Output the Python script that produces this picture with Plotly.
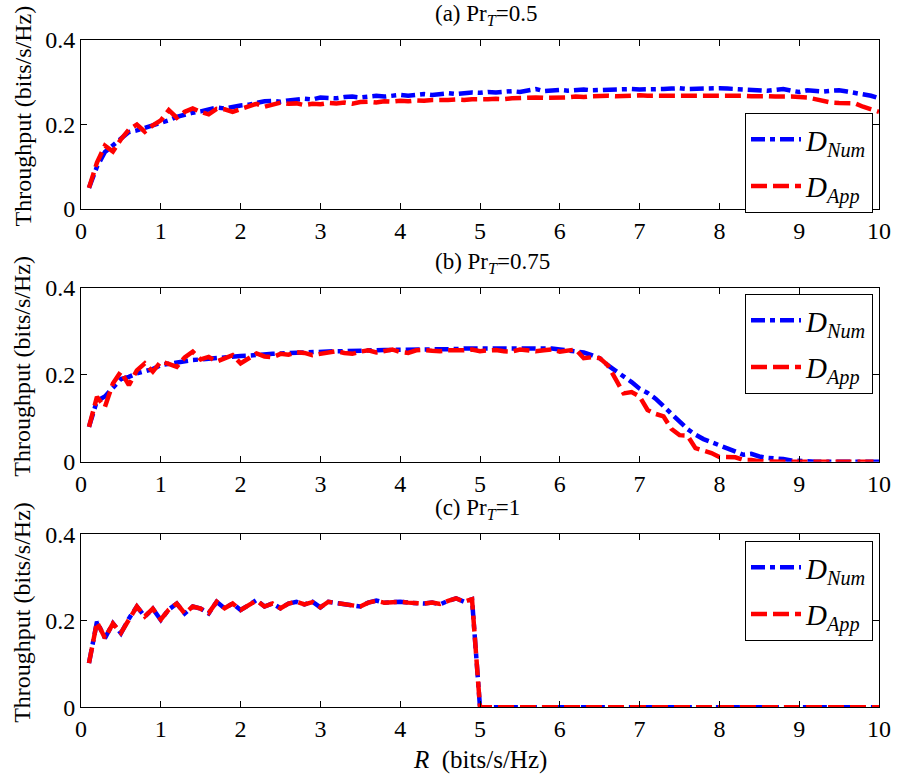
import plotly.graph_objects as go

# ---------------- data ----------------
R = [0.1, 0.2, 0.3, 0.4, 0.5, 0.6, 0.7, 0.8, 0.9, 1.0,
     1.1, 1.2, 1.3, 1.4, 1.5, 1.6, 1.7, 1.8, 1.9, 2.0,
     2.1, 2.2, 2.3, 2.4, 2.5, 2.6, 2.7, 2.8, 2.9, 3.0,
     3.1, 3.2, 3.3, 3.4, 3.5, 3.6, 3.7, 3.8, 3.9, 4.0,
     4.1, 4.2, 4.3, 4.4, 4.5, 4.6, 4.7, 4.8, 4.9, 5.0,
     5.1, 5.2, 5.3, 5.4, 5.5, 5.6, 5.7, 5.8, 5.9, 6.0,
     6.1, 6.2, 6.3, 6.4, 6.5, 6.6, 6.7, 6.8, 6.9, 7.0,
     7.1, 7.2, 7.3, 7.4, 7.5, 7.6, 7.7, 7.8, 7.9, 8.0,
     8.1, 8.2, 8.3, 8.4, 8.5, 8.6, 8.7, 8.8, 8.9, 9.0,
     9.1, 9.2, 9.3, 9.4, 9.5, 9.6, 9.7, 9.8, 9.9, 10.0]

# (a) Pr_T = 0.5
num_a = [0.050, 0.100, 0.135, 0.150, 0.168, 0.182, 0.186, 0.192, 0.197, 0.205,
         0.210, 0.218, 0.224, 0.228, 0.231, 0.235, 0.240, 0.238, 0.242, 0.245,
         0.247, 0.252, 0.255, 0.256, 0.254, 0.257, 0.259, 0.261, 0.259, 0.264,
         0.263, 0.262, 0.265, 0.266, 0.264, 0.267, 0.268, 0.266, 0.269, 0.270,
         0.268, 0.271, 0.272, 0.270, 0.273, 0.274, 0.272, 0.275, 0.276, 0.275,
         0.277, 0.276, 0.278, 0.279, 0.277, 0.280, 0.284, 0.279, 0.281, 0.282,
         0.280, 0.282, 0.283, 0.281, 0.282, 0.283, 0.282, 0.283, 0.284, 0.283,
         0.283, 0.282, 0.284, 0.285, 0.286, 0.284, 0.285, 0.284, 0.285, 0.286,
         0.285, 0.284, 0.283, 0.284, 0.282, 0.280, 0.282, 0.284, 0.280, 0.277,
         0.281, 0.279, 0.278, 0.280, 0.281, 0.278, 0.275, 0.272, 0.268, 0.262]
app_a = [0.050, 0.110, 0.150, 0.136, 0.165, 0.188, 0.200, 0.183, 0.198, 0.210,
         0.234, 0.216, 0.230, 0.238, 0.230, 0.224, 0.237, 0.236, 0.230, 0.237,
         0.243, 0.249, 0.242, 0.247, 0.252, 0.249, 0.250, 0.246, 0.249, 0.248,
         0.251, 0.250, 0.252, 0.249, 0.253, 0.254, 0.252, 0.255, 0.254, 0.256,
         0.255, 0.257, 0.256, 0.258, 0.257, 0.258, 0.259, 0.258, 0.260, 0.259,
         0.260, 0.261, 0.260, 0.262, 0.263, 0.262, 0.264, 0.263, 0.263, 0.262,
         0.264, 0.266, 0.265, 0.267, 0.268, 0.268, 0.267, 0.268, 0.268, 0.269,
         0.268, 0.268, 0.269, 0.270, 0.270, 0.269, 0.270, 0.269, 0.269, 0.270,
         0.269, 0.268, 0.268, 0.267, 0.268, 0.267, 0.266, 0.267, 0.266, 0.265,
         0.264, 0.260, 0.255, 0.252, 0.251, 0.251, 0.250, 0.242, 0.235, 0.230]

# (b) Pr_T = 0.75
num_b = [0.080, 0.140, 0.150, 0.172, 0.190, 0.195, 0.203, 0.208, 0.213, 0.222,
         0.225, 0.230, 0.232, 0.234, 0.235, 0.237, 0.238, 0.240, 0.241, 0.243,
         0.244, 0.246, 0.247, 0.248, 0.249, 0.250, 0.251, 0.251, 0.252, 0.253,
         0.253, 0.254, 0.254, 0.255, 0.255, 0.256, 0.256, 0.257, 0.257, 0.257,
         0.258, 0.258, 0.258, 0.259, 0.259, 0.259, 0.259, 0.260, 0.260, 0.260,
         0.261, 0.260, 0.261, 0.261, 0.262, 0.261, 0.262, 0.261, 0.260, 0.258,
         0.256, 0.254, 0.251, 0.245, 0.238, 0.222, 0.210, 0.197, 0.183, 0.168,
         0.158, 0.145, 0.128, 0.108, 0.092, 0.075, 0.062, 0.052, 0.045, 0.038,
         0.030, 0.022, 0.016, 0.018, 0.012, 0.009, 0.008, 0.006, 0.003, 0.001,
         0.001, 0.000, 0.000, 0.000, 0.000, 0.000, 0.000, 0.000, 0.000, 0.000]
app_b = [0.080, 0.149, 0.126, 0.180, 0.207, 0.176, 0.210, 0.226, 0.207, 0.230,
         0.225, 0.218, 0.240, 0.253, 0.235, 0.241, 0.230, 0.238, 0.245, 0.226,
         0.238, 0.249, 0.242, 0.240, 0.248, 0.246, 0.252, 0.250, 0.245, 0.248,
         0.252, 0.254, 0.250, 0.248, 0.253, 0.256, 0.251, 0.254, 0.258, 0.252,
         0.250, 0.256, 0.257, 0.255, 0.254, 0.256, 0.255, 0.256, 0.258, 0.254,
         0.256, 0.257, 0.254, 0.253, 0.258, 0.257, 0.254, 0.256, 0.258, 0.253,
         0.256, 0.258, 0.238, 0.240, 0.238, 0.222, 0.190, 0.157, 0.160, 0.150,
         0.119, 0.110, 0.104, 0.075, 0.061, 0.060, 0.031, 0.025, 0.020, 0.011,
         0.011, 0.010, 0.004, 0.004, 0.001, 0.000, 0.000, 0.000, 0.000, 0.000,
         0.000, 0.000, 0.000, 0.000, 0.000, 0.000, 0.000, 0.000, 0.000, 0.000]

# (c) Pr_T = 1
num_c = [0.102, 0.198, 0.160, 0.194, 0.171, 0.205, 0.233, 0.210, 0.228, 0.202,
         0.226, 0.240, 0.217, 0.233, 0.228, 0.217, 0.244, 0.229, 0.240, 0.225,
         0.236, 0.248, 0.233, 0.240, 0.229, 0.240, 0.244, 0.238, 0.244, 0.231,
         0.244, 0.241, 0.240, 0.235, 0.233, 0.242, 0.247, 0.242, 0.243, 0.244,
         0.242, 0.240, 0.240, 0.242, 0.238, 0.246, 0.252, 0.244, 0.250, 0.000,
         0.000, 0.000, 0.000, 0.000, 0.000, 0.000, 0.000, 0.000, 0.000, 0.000,
         0.000, 0.000, 0.000, 0.000, 0.000, 0.000, 0.000, 0.000, 0.000, 0.000,
         0.000, 0.000, 0.000, 0.000, 0.000, 0.000, 0.000, 0.000, 0.000, 0.000,
         0.000, 0.000, 0.000, 0.000, 0.000, 0.000, 0.000, 0.000, 0.000, 0.000,
         0.000, 0.000, 0.000, 0.000, 0.000, 0.000, 0.000, 0.000, 0.000, 0.000]
app_c = [0.102, 0.197, 0.160, 0.194, 0.172, 0.205, 0.233, 0.210, 0.228, 0.203,
         0.226, 0.240, 0.217, 0.233, 0.228, 0.218, 0.244, 0.229, 0.240, 0.225,
         0.236, 0.247, 0.233, 0.240, 0.229, 0.240, 0.244, 0.238, 0.243, 0.231,
         0.244, 0.241, 0.240, 0.235, 0.233, 0.242, 0.246, 0.242, 0.243, 0.244,
         0.242, 0.240, 0.240, 0.242, 0.239, 0.246, 0.252, 0.244, 0.250, 0.000,
         0.000, 0.000, 0.000, 0.000, 0.000, 0.000, 0.000, 0.000, 0.000, 0.000,
         0.000, 0.000, 0.000, 0.000, 0.000, 0.000, 0.000, 0.000, 0.000, 0.000,
         0.000, 0.000, 0.000, 0.000, 0.000, 0.000, 0.000, 0.000, 0.000, 0.000,
         0.000, 0.000, 0.000, 0.000, 0.000, 0.000, 0.000, 0.000, 0.000, 0.000,
         0.000, 0.000, 0.000, 0.000, 0.000, 0.000, 0.000, 0.000, 0.000, 0.000]

panel_titles = ["(a) Pr<sub><i>T</i></sub>=0.5",
                "(b) Pr<sub><i>T</i></sub>=0.75",
                "(c) Pr<sub><i>T</i></sub>=1"]
series_names = ["<i>D</i><sub><i>Num</i></sub>", "<i>D</i><sub><i>App</i></sub>"]
x_ticks = [0, 1, 2, 3, 4, 5, 6, 7, 8, 9, 10]
y_ticks = [0, 0.2, 0.4]
y_tick_text = ["0", "0.2", "0.4"]

# ---------------- layout geometry (pixels) ----------------
W, H = 897, 775
FONT = "Liberation Serif"
x_left, x_right = 81, 879
panels_px = [(40, 209), (287.7, 461.7), (534.3, 707.3)]   # (top, bottom)
legend_tops = [113, 294, 541]

def py(p):
    return 1 - p / H

def px(p):
    return p / W

fig = go.Figure()
data = [(num_a, app_a), (num_b, app_b), (num_c, app_c)]
for i, (num, app) in enumerate(data):
    sfx = "" if i == 0 else str(i + 1)
    leg = "legend" + sfx
    fig.add_trace(go.Scatter(
        x=R, y=num, mode="lines", name=series_names[0],
        line=dict(color="#0000FF", width=4.5, dash="14px,5px,5px,5px"),
        xaxis="x" + sfx, yaxis="y" + sfx, legend=leg, legendgroup="n" + str(i)))
    fig.add_trace(go.Scatter(
        x=R, y=app, mode="lines", name=series_names[1],
        line=dict(color="#FF0000", width=4.5, dash="16px,6px"),
        xaxis="x" + sfx, yaxis="y" + sfx, legend=leg, legendgroup="a" + str(i)))

layout = dict(
    width=W, height=H,
    margin=dict(l=0, r=0, t=0, b=0, autoexpand=False),
    paper_bgcolor="white", plot_bgcolor="white",
    font=dict(family=FONT, size=22, color="black"),
    showlegend=True,
)

for i, (top, bot) in enumerate(panels_px):
    sfx = "" if i == 0 else str(i + 1)
    layout["xaxis" + sfx] = dict(
        domain=[px(x_left), px(x_right)], anchor="y" + sfx,
        range=[0, 10], tickvals=x_ticks, ticks="inside", ticklen=6,
        tickcolor="black", showline=True, linecolor="black", linewidth=1,
        mirror="ticks", showgrid=False, zeroline=False,
        tickfont=dict(family=FONT, size=24, color="black"))
    layout["yaxis" + sfx] = dict(
        domain=[py(bot), py(top)], anchor="x" + sfx,
        range=[0, 0.4], tickvals=y_ticks, ticktext=y_tick_text,
        ticks="inside", ticklen=6, tickcolor="black", showline=True,
        linecolor="black", linewidth=1, mirror="ticks", showgrid=False,
        zeroline=False, tickfont=dict(family=FONT, size=24, color="black"))
    layout["legend" + sfx] = dict(
        x=px(873), y=py(legend_tops[i]), xanchor="right", yanchor="top",
        bgcolor="white", bordercolor="black", borderwidth=1,
        font=dict(family=FONT, size=29, color="black"),
        tracegroupgap=6, itemwidth=50)

fig.update_layout(**layout)

annotations = []
for i, (top, bot) in enumerate(panels_px):
    annotations.append(dict(
        text=panel_titles[i], x=px(433), y=py(top - 25), xref="paper", yref="paper",
        xanchor="left", yanchor="middle", showarrow=False,
        font=dict(family=FONT, size=23, color="black")))
    annotations.append(dict(
        text="Throughput (bits/s/Hz)", x=px(22), y=py((top + bot) / 2 - 8),
        xref="paper", yref="paper", xanchor="center", yanchor="middle",
        textangle=-90, showarrow=False,
        font=dict(family=FONT, size=24, color="black")))
annotations.append(dict(
    text="<i>R</i>\u00a0\u00a0(bits/s/Hz)", x=px(480), y=py(760),
    xref="paper", yref="paper", xanchor="center", yanchor="middle",
    showarrow=False, font=dict(family=FONT, size=25, color="black")))
fig.update_layout(annotations=annotations)

fig.write_html("out.html", post_script="document.body.style.margin='0';")
